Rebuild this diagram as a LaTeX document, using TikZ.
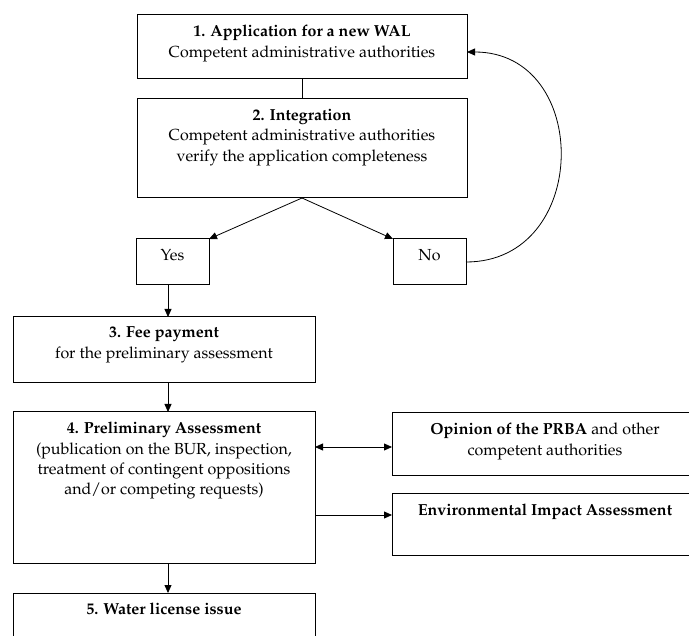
\documentclass[tikz,border=0pt]{standalone}
\usepackage[T1]{fontenc}
\usepackage{mathpazo}
\usetikzlibrary{arrows.meta}
\begin{document}
\begin{tikzpicture}[x=1pt,y=-1pt,
  box/.style={draw=black, line width=1pt, inner sep=0pt, outer sep=0pt},
  lbl/.style={anchor=north, align=center, inner sep=0pt, font=\fontsize{16}{20.4}\selectfont},
  tip/.tip={Triangle[length=8pt,width=7pt]},
  conn/.style={line width=0.8pt, -tip},
  link/.style={line width=0.8pt}]
\useasboundingbox (0,0) rectangle (689,636);
% boxes
\node[box, minimum width=330pt, minimum height=64pt] (b1) at (302,47) {};
\node[box, minimum width=330pt, minimum height=99pt] (b2) at (302,148.5) {};
\node[box, minimum width=73pt, minimum height=46pt] (yes) at (172.5,262) {};
\node[box, minimum width=73pt, minimum height=46pt] (no) at (429.5,262) {};
\node[box, minimum width=302pt, minimum height=66pt] (b3) at (164,350) {};
\node[box, minimum width=302pt, minimum height=152pt] (b4) at (164,488) {};
\node[box, minimum width=306pt, minimum height=63pt] (op) at (545,444.5) {};
\node[box, minimum width=306pt, minimum height=62pt] (eia) at (545,525) {};
\node[box, minimum width=302pt, minimum height=67pt] (b5) at (164,626.5) {};
% texts
\node[lbl] (t1) at ([yshift=-10pt]b1.north) {\textbf{1. Application for a new WAL}\\Competent administrative authorities};
\node[lbl] (t2) at ([yshift=-10pt]b2.north) {\textbf{2. Integration}\\Competent administrative authorities\\verify the application completeness};
\node[lbl] (tyes) at ([yshift=-10pt]yes.north) {Yes};
\node[lbl] (tno) at ([yshift=-10pt]no.north) {No};
\node[lbl] (t3) at ([yshift=-10pt]b3.north) {\textbf{3. Fee payment}\\for the preliminary assessment};
\node[lbl] (t4) at ([yshift=-10pt]b4.north) {\textbf{4. Preliminary Assessment}\\(publication on the BUR, inspection,\\treatment of contingent oppositions\\and/or competing requests)};
\node[lbl] (top) at ([yshift=-10pt]op.north) {\textbf{Opinion of the PRBA} and other\\competent authorities};
\node[lbl] (teia) at ([yshift=-10pt]eia.north) {\textbf{Environmental Impact Assessment}};
\node[lbl] (t5) at ([yshift=-10pt]b5.north) {\textbf{5. Water license issue}};
% connectors
\coordinate (vx) at (168,0);
\coordinate (ya) at (0,447);
\coordinate (yb) at (0,515);
\coordinate (ret) at (0,52);
\draw[link] (b1.south) -- (b2.north);
\draw[conn] (b2.south) -- (yes.north east);
\draw[conn] (b2.south) -- (no.north west);
\draw[conn] (yes.south -| vx) -- (b3.north -| vx);
\draw[conn] (b3.south -| vx) -- (b4.north -| vx);
\draw[conn] (b4.south -| vx) -- (b5.north -| vx);
\draw[link, tip-tip] (b4.east |- ya) -- (op.west |- ya);
\draw[conn] (b4.east |- yb) -- (eia.west |- yb);
\draw[conn] (no.east) .. controls +(125,0) and +(125,0) .. (b1.east |- ret);
\end{tikzpicture}
\end{document}
